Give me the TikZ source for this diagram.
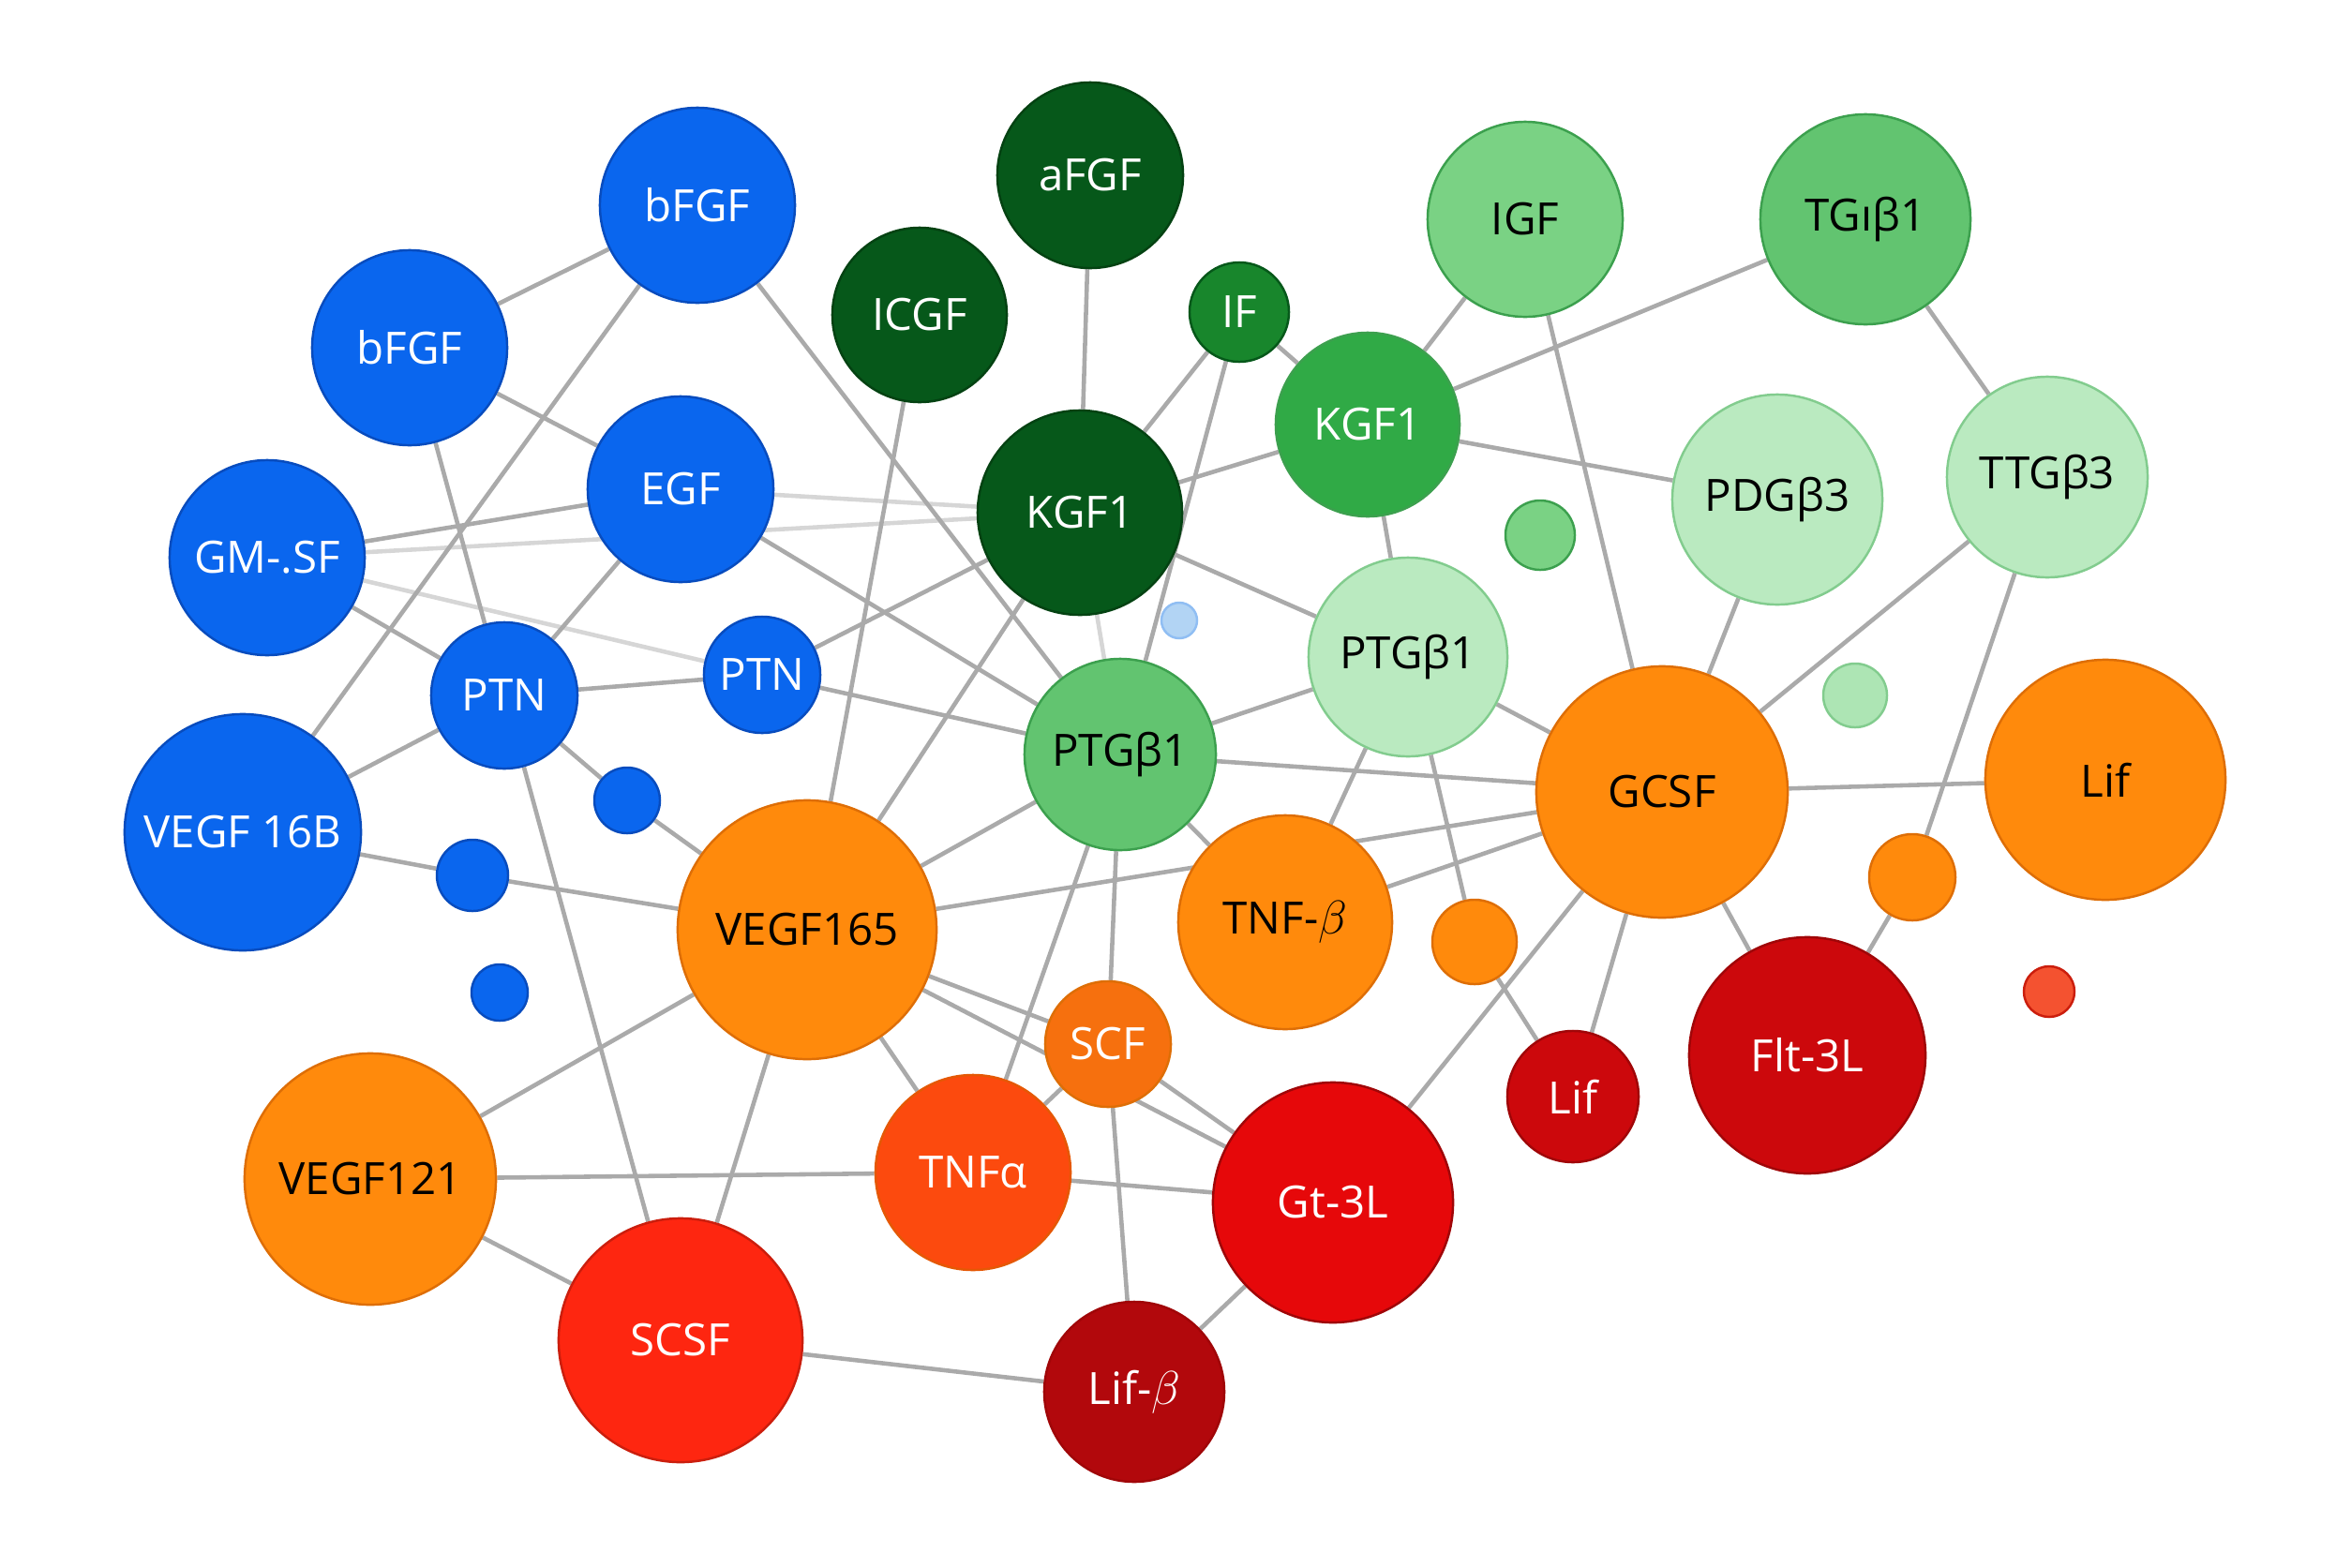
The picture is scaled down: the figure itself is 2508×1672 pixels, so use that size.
\documentclass[tikz,border=0pt]{standalone}
\usepackage{fontspec}
\setmainfont{Open Sans}
\usetikzlibrary{backgrounds}

\definecolor{cblue}{RGB}{10,102,238}
\definecolor{cblueD}{RGB}{8,76,190}
\definecolor{cdkgreen}{RGB}{6,88,26}
\definecolor{cdkgreenD}{RGB}{4,66,18}
\definecolor{cif}{RGB}{24,134,44}
\definecolor{cmgreen}{RGB}{48,170,70}
\definecolor{cgreen}{RGB}{98,196,112}
\definecolor{cgreenD}{RGB}{60,160,78}
\definecolor{cigf}{RGB}{122,210,132}
\definecolor{cltgreen}{RGB}{186,234,192}
\definecolor{cltgreenD}{RGB}{130,204,142}
\definecolor{corange}{RGB}{255,138,12}
\definecolor{corangeD}{RGB}{222,110,6}
\definecolor{cscf}{RGB}{246,112,14}
\definecolor{ctnfa}{RGB}{252,74,14}
\definecolor{cscsf}{RGB}{254,38,16}
\definecolor{cgt}{RGB}{230,8,10}
\definecolor{cred}{RGB}{204,8,12}
\definecolor{credD}{RGB}{160,6,8}
\definecolor{clifb}{RGB}{178,8,12}
\definecolor{cdot}{RGB}{244,82,48}
\definecolor{cltblue}{RGB}{178,212,244}
\definecolor{egray}{RGB}{170,170,170}
\definecolor{elight}{RGB}{214,214,214}

\begin{document}
\begin{tikzpicture}[x=0.01cm,y=-0.01cm]
  \tikzset{ c/.style={circle,draw,line width=0.7pt,inner sep=0pt,font=\fontsize{13.5}{16}\selectfont},
    b/.style={c,fill=cblue,draw=cblueD,text=white},
    dg/.style={c,fill=cdkgreen,draw=cdkgreenD,text=white},
    g/.style={c,fill=cgreen,draw=cgreenD},
    lg/.style={c,fill=cltgreen,draw=cltgreenD},
    o/.style={c,fill=corange,draw=corangeD},
    r/.style={c,fill=cred,draw=credD,text=white},
    l/.style={draw=egray,line width=1.3pt},
    ll/.style={draw=elight,line width=1.3pt},
  }
  \useasboundingbox (0,0) rectangle (2508,1672);

  \node[b,minimum size=2.08cm] (bFGFa) at (744,219) {bFGF};
  \node[b,minimum size=2.08cm] (bFGFb) at (437,371) {bFGF};
  \node[b,minimum size=1.98cm] (EGF) at (726,522) {EGF};
  \node[b,minimum size=2.08cm] (GMSF) at (285,595) {GM-.SF};
  \node[b,minimum size=1.56cm] (PTNa) at (538,742) {PTN};
  \node[b,minimum size=1.24cm] (PTNb) at (813,720) {PTN};
  \node[b,minimum size=2.52cm] (VEGFb) at (259,888) {VEGF 16B};
  \node[b,minimum size=0.70cm] (dotA) at (669,854) {};
  \node[b,minimum size=0.76cm] (dotB) at (504,934) {};
  \node[b,minimum size=0.60cm] (dotC) at (533,1059) {};

  \node[dg,minimum size=1.98cm] (aFGF) at (1163,187) {aFGF};
  \node[dg,minimum size=1.86cm] (ICGF) at (981,336) {ICGF};
  \node[dg,minimum size=2.18cm] (KGFa) at (1152,547) {KGF1};
  \node[c,fill=cif,draw=cdkgreen,text=white,minimum size=1.06cm] (IF) at (1322,333) {IF};
  \node[c,fill=cmgreen,draw=cgreenD,text=white,minimum size=1.96cm] (KGFb) at (1459,453) {KGF1};
  \node[c,fill=cigf,draw=cgreenD,minimum size=2.08cm] (IGF) at (1627,234) {IGF};
  \node[g,minimum size=2.24cm] (TGb) at (1990,234) {TGıβ1};
  \node[lg,minimum size=2.24cm] (PDG) at (1896,533) {PDGβ3};
  \node[lg,minimum size=2.14cm] (TTG) at (2184,509) {TTGβ3};
  \node[lg,minimum size=2.12cm] (PTGa) at (1502,701) {PTGβ1};
  \node[g,minimum size=2.04cm] (PTGb) at (1195,805) {PTGβ1};
  \node[c,fill=cigf,draw=cgreenD,minimum size=0.74cm] (gdotA) at (1643,571) {};
  \node[lg,fill=cltgreen!80!cigf,minimum size=0.68cm] (gdotB) at (1979,742) {};
  \node[c,fill=cltblue,draw=cltblue!80!cblue,minimum size=0.38cm] (bdot) at (1258,662) {};

  \node[o,minimum size=2.68cm] (GCSF) at (1773,845) {GCSF};
  \node[o,minimum size=2.56cm] (LifA) at (2246,832) {Lif};
  \node[o,minimum size=2.76cm] (VEGFa) at (861,992) {VEGF165};
  \node[o,minimum size=2.28cm] (TNFb) at (1371,984) {TNF-$\beta$};
  \node[o,minimum size=0.90cm] (odotA) at (1573,1005) {};
  \node[o,minimum size=0.92cm] (odotB) at (2040,936) {};
  \node[o,fill=cscf,text=white,minimum size=1.34cm] (SCF) at (1182,1114) {SCF};
  \node[o,minimum size=2.68cm] (VEGFc) at (395,1258) {VEGF121};
  \node[r,fill=ctnfa,draw=corangeD!80!red,minimum size=2.08cm] (TNFa) at (1038,1251) {TNFα};
  \node[r,fill=cscsf,draw=cscsf!80!black,minimum size=2.60cm] (SCSF) at (726,1430) {SCSF};
  \node[r,fill=cgt,minimum size=2.56cm] (Gt) at (1422,1283) {Gt-3L};
  \node[r,minimum size=1.40cm] (LifB) at (1678,1170) {Lif};
  \node[r,minimum size=2.52cm] (Flt) at (1928,1126) {Flt-3L};
  \node[r,fill=clifb,minimum size=1.92cm] (LifC) at (1210,1485) {Lif-$\beta$};
  \node[r,fill=cdot,draw=cscsf!80!black,minimum size=0.54cm] (rdot) at (2186,1058) {};

  \begin{scope}[on background layer]
  \draw[ll] (EGF) -- (KGFa);
  \draw[ll] (GMSF) -- (KGFa);
  \draw[ll] (GMSF) -- (PTNb);
  \draw[ll] (KGFa) -- (PTGb);
  \draw[l] (bFGFa) -- (bFGFb);
  \draw[l] (bFGFa) -- (VEGFb);
  \draw[l] (bFGFa) -- (PTGb);
  \draw[l] (bFGFb) -- (EGF);
  \draw[l] (bFGFb) -- (PTNa);
  \draw[l] (EGF) -- (GMSF);
  \draw[l] (EGF) -- (PTNa);
  \draw[l] (EGF) -- (PTGb);
  \draw[l] (GMSF) -- (PTNa);
  \draw[l] (PTNa) -- (PTNb);
  \draw[l] (PTNa) -- (VEGFb);
  \draw[l] (PTNa) -- (SCSF);
  \draw[l] (PTNa) -- (dotA);
  \draw[l] (dotA) -- (VEGFa);
  \draw[l] (VEGFb) -- (dotB);
  \draw[l] (dotB) -- (VEGFa);
  \draw[l] (PTNb) -- (KGFa);
  \draw[l] (PTNb) -- (PTGb);
  \draw[l] (ICGF) -- (VEGFa);
  \draw[l] (aFGF) -- (KGFa);
  \draw[l] (IF) -- (KGFa);
  \draw[l] (IF) -- (PTGb);
  \draw[l] (IF) -- (KGFb);
  \draw[l] (KGFa) -- (KGFb);
  \draw[l] (KGFa) -- (PTGa);
  \draw[l] (KGFa) -- (VEGFa);
  \draw[l] (KGFb) -- (IGF);
  \draw[l] (KGFb) -- (TGb);
  \draw[l] (KGFb) -- (PDG);
  \draw[l] (KGFb) -- (PTGa);
  \draw[l] (IGF) -- (GCSF);
  \draw[l] (TGb) -- (TTG);
  \draw[l] (PDG) -- (GCSF);
  \draw[l] (TTG) -- (GCSF);
  \draw[l] (TTG) -- (odotB);
  \draw[l] (odotB) -- (Flt);
  \draw[l] (PTGa) -- (PTGb);
  \draw[l] (PTGa) -- (TNFb);
  \draw[l] (PTGa) -- (GCSF);
  \draw[l] (PTGa) -- (odotA);
  \draw[l] (odotA) -- (LifB);
  \draw[l] (PTGb) -- (GCSF);
  \draw[l] (PTGb) -- (VEGFa);
  \draw[l] (PTGb) -- (SCF);
  \draw[l] (PTGb) -- (TNFa);
  \draw[l] (PTGb) -- (TNFb);
  \draw[l] (VEGFa) -- (GCSF);
  \draw[l] (TNFb) -- (GCSF);
  \draw[l] (VEGFa) -- (SCF);
  \draw[l] (VEGFa) -- (Gt);
  \draw[l] (SCF) -- (Gt);
  \draw[l] (VEGFa) -- (TNFa);
  \draw[l] (VEGFa) -- (VEGFc);
  \draw[l] (VEGFa) -- (SCSF);
  \draw[l] (VEGFc) -- (TNFa);
  \draw[l] (VEGFc) -- (SCSF);
  \draw[l] (TNFa) -- (Gt);
  \draw[l] (TNFa) -- (SCF);
  \draw[l] (SCF) -- (LifC);
  \draw[l] (SCSF) -- (LifC);
  \draw[l] (LifC) -- (Gt);
  \draw[l] (Gt) -- (GCSF);
  \draw[l] (GCSF) -- (LifB);
  \draw[l] (GCSF) -- (Flt);
  \draw[l] (GCSF) -- (LifA);
  \end{scope}
\end{tikzpicture}
\end{document}
